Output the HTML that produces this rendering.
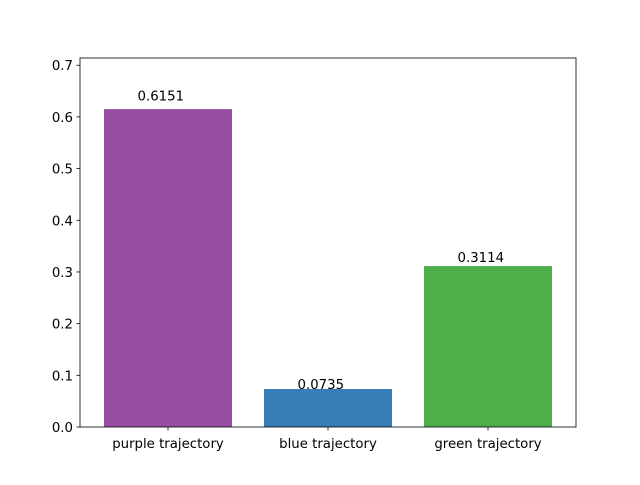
<!DOCTYPE html>
<html><head><meta charset="utf-8"><style>
body{margin:0;background:#fff;}
svg text{font-family:"DejaVu Sans","Liberation Sans",sans-serif;font-size:13.3px;fill:#000;}
</style></head><body>
<svg id="chart" width="640" height="480" xmlns="http://www.w3.org/2000/svg">
<rect width="640" height="480" fill="#fff"/>
<g id="bars"></g>
<g id="axes"></g>
</svg>
<script>
const categories = ["purple trajectory","blue trajectory","green trajectory"];
const values = [0.6151, 0.0735, 0.3114];
const valueLabels = ["0.6151","0.0735","0.3114"];
const colors = ["#984ea3","#377eb8","#4daf4a"];
const yTicks = [0.0,0.1,0.2,0.3,0.4,0.5,0.6,0.7];
const yTickLabels = ["0.0","0.1","0.2","0.3","0.4","0.5","0.6","0.7"];

const L=80,R=576,T=58,B=427;
const xMin=-0.55,xMax=2.55,yMin=0,yMax=0.714;
const xs=v=>L+(v-xMin)/(xMax-xMin)*(R-L);
const ys=v=>B-(v-yMin)/(yMax-yMin)*(B-T);
const NS="http://www.w3.org/2000/svg";
const bars=document.getElementById('bars'), axes=document.getElementById('axes');
function mk(tag,attrs,parent){const e=document.createElementNS(NS,tag);for(const k in attrs)e.setAttribute(k,attrs[k]);parent.appendChild(e);return e;}
values.forEach((v,i)=>{
  const x0=xs(i-0.4),x1=xs(i+0.4);
  const r=mk('rect',{x:x0,y:ys(v),width:x1-x0,height:ys(0)-ys(v),fill:colors[i]},bars);
  
  
  const t=mk('text',{x:xs(i-0.045),y:ys(v*1.03)+1,'text-anchor':'middle'},bars);
  t.textContent=valueLabels[i];
  
  
  mk('line',{x1:xs(i),x2:xs(i),y1:B,y2:B+3.5,stroke:'#000','stroke-width':0.8},axes);
  const xl=mk('text',{x:xs(i),y:B+21,'text-anchor':'middle'},axes);
  xl.textContent=categories[i];
  
  
});
yTicks.forEach((v,i)=>{
  const y=ys(v);
  mk('line',{x1:L-3.5,x2:L,y1:y,y2:y,stroke:'#000','stroke-width':0.8},axes);
  const t=mk('text',{x:L-7,y:y+5,'text-anchor':'end'},axes);
  t.textContent=yTickLabels[i];
  
  
});
const frame=mk('rect',{x:L,y:T,width:R-L,height:B-T,fill:'none',stroke:'#000','stroke-width':0.8},axes);


</script>
</body></html>
